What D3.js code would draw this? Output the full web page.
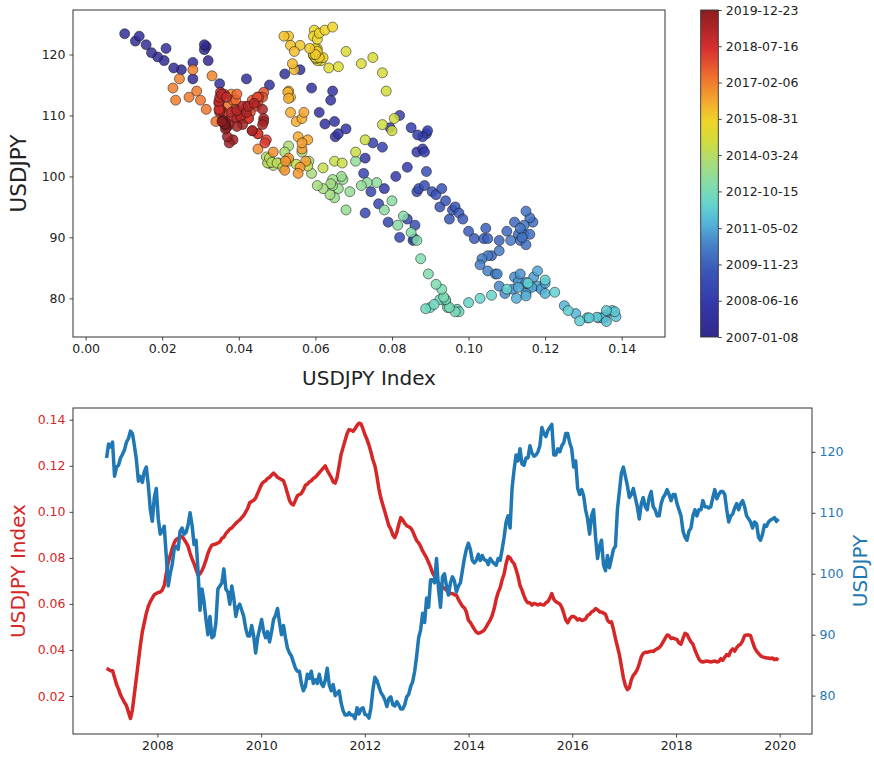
<!DOCTYPE html>
<html><head><meta charset="utf-8">
<script src="https://cdn.jsdelivr.net/npm/d3@7"></script>
<style>
body{margin:0;background:#fff}
svg{display:block}
text{font-family:"DejaVu Sans",sans-serif}
</style>
</head><body>
<svg id="c" width="874" height="759"></svg>
<script>
// ---------------- DATA ----------------
const startDate = "2007-01-08";   // first weekly observation
const stepDays = 14;              // one value every two weeks
const endDate = "2019-12-23";

// USDJPY spot (one row per year)
const usdjpy = [
 119.0,121.3,120.8,121.6,116.0,117.5,117.8,119.0,119.6,120.3,121.6,122.2,123.4,123.0,121.0,118.7,115.2,116.0,115.0,116.8,117.5,114.5,110.5,108.6,112.5,114.0,
 109.0,106.5,107.0,107.8,103.0,98.0,100.0,101.5,104.0,104.5,104.0,107.0,107.5,106.5,106.8,108.0,110.0,108.0,104.8,105.5,100.5,94.0,97.5,95.5,92.5,90.0,
 93.0,89.5,89.8,92.0,97.5,98.0,98.5,100.8,97.5,97.0,95.0,98.0,96.0,93.0,94.5,95.0,94.0,93.0,91.0,89.8,89.8,91.5,89.8,87.0,89.5,91.0,
 92.5,90.5,89.5,90.5,88.8,90.5,92.5,93.2,94.3,92.0,90.0,91.5,89.5,87.8,87.0,86.5,85.5,84.5,84.0,84.0,82.0,80.8,81.5,83.5,82.8,84.0,
 82.0,82.6,82.0,83.5,82.0,81.5,82.5,84.5,81.8,80.8,81.8,80.0,80.4,80.8,78.8,77.5,76.8,76.8,77.2,76.8,76.8,76.2,78.0,77.0,77.8,78.0,
 76.9,76.8,76.3,78.0,81.0,83.0,82.5,81.5,80.5,80.0,79.3,78.2,79.5,79.8,78.5,78.3,79.0,78.5,77.8,77.8,78.5,79.8,80.2,81.5,82.3,84.0,86.5,
 89.5,90.8,93.5,92.0,96.0,94.5,99.0,99.0,98.5,102.5,97.5,94.5,99.5,100.0,98.0,96.5,98.5,99.5,98.8,97.0,98.0,98.5,100.5,102.5,104.0,105.0,
 104.0,102.2,101.8,102.2,103.2,102.2,103.0,102.3,102.2,101.5,102.5,102.0,101.7,101.4,102.5,102.2,104.0,106.0,108.5,109.5,107.5,114.0,117.0,119.5,118.5,120.5,
 118.0,117.8,119.0,119.0,121.0,119.8,119.3,119.5,120.0,121.0,124.0,123.0,122.5,123.5,124.0,124.5,119.5,119.5,120.5,120.0,121.0,121.5,123.0,123.0,121.5,120.5,
 117.5,118.5,114.0,113.0,113.8,112.8,110.5,109.0,106.5,109.5,110.5,106.0,102.5,104.5,105.5,101.5,100.5,103.0,101.0,102.5,104.0,104.5,110.5,113.5,116.5,117.5,
 116.0,114.5,112.5,113.0,114.0,112.5,111.0,109.0,111.5,112.5,111.0,110.5,112.5,113.5,111.0,110.5,109.5,109.5,111.5,112.5,113.0,113.8,113.0,112.0,113.0,113.0,
 111.5,110.5,109.5,107.0,106.0,105.5,107.0,107.5,109.5,110.5,109.5,110.5,110.5,112.0,111.0,111.0,110.8,111.0,112.5,113.8,112.3,113.0,113.5,113.5,113.0,110.5,
 108.5,109.5,109.8,110.8,111.5,110.5,111.5,112.0,111.0,109.5,109.0,108.5,107.5,108.5,108.2,106.0,105.5,106.5,108.0,107.8,108.5,108.8,109.0,109.2,108.6,109.0
];

// USDJPY Index (one row per year)
const usdjpyIndex = [
 0.032,0.0315,0.031,0.031,0.028,0.025,0.023,0.0205,0.0188,0.0172,0.0158,0.013,0.0102,0.014,0.021,0.028,0.035,0.042,0.048,0.052,0.056,0.059,0.061,0.0625,0.064,0.0645,
 0.065,0.0652,0.066,0.068,0.073,0.078,0.081,0.084,0.0865,0.088,0.0885,0.089,0.0893,0.088,0.0867,0.085,0.082,0.0795,0.0775,0.075,0.0726,0.073,0.0745,0.0765,0.079,0.082,
 0.084,0.0855,0.0858,0.086,0.0865,0.087,0.0885,0.089,0.0905,0.0915,0.0925,0.093,0.094,0.095,0.0958,0.0965,0.0975,0.0985,0.100,0.1015,0.104,0.1045,0.105,0.106,0.108,0.110,
 0.112,0.113,0.1135,0.1145,0.115,0.116,0.1168,0.116,0.115,0.1145,0.114,0.1135,0.111,0.108,0.105,0.1035,0.103,0.105,0.107,0.1075,0.108,0.1095,0.1115,0.112,0.113,0.1135,
 0.1145,0.115,0.116,0.117,0.118,0.119,0.120,0.118,0.1165,0.115,0.113,0.1125,0.115,0.120,0.125,0.128,0.131,0.134,0.1357,0.1355,0.135,0.136,0.1375,0.1385,0.1382,0.136,
 0.1335,0.1315,0.129,0.126,0.1225,0.120,0.1155,0.110,0.106,0.103,0.100,0.097,0.094,0.0925,0.090,0.0888,0.091,0.0945,0.0975,0.0965,0.095,0.094,0.0935,0.093,0.0915,0.0895,0.0875,
 0.0865,0.085,0.083,0.0815,0.080,0.078,0.076,0.0735,0.072,0.0705,0.069,0.068,0.0672,0.0668,0.066,0.065,0.0645,0.0645,0.064,0.0638,0.062,0.0605,0.059,0.0583,0.0565,0.053,
 0.052,0.0505,0.049,0.0478,0.0472,0.0475,0.048,0.0486,0.050,0.0515,0.053,0.055,0.058,0.062,0.065,0.067,0.0705,0.073,0.0775,0.0806,0.080,0.0785,0.0775,0.075,0.072,0.068,
 0.066,0.0635,0.0615,0.0605,0.0605,0.0595,0.0602,0.060,0.0595,0.060,0.0597,0.0595,0.0605,0.061,0.0625,0.0645,0.062,0.061,0.0605,0.060,0.0585,0.056,0.053,0.0518,0.0535,0.0545,
 0.0545,0.054,0.053,0.0535,0.0528,0.053,0.0535,0.055,0.0555,0.0565,0.057,0.058,0.0575,0.0565,0.0565,0.056,0.0555,0.053,0.052,0.0522,0.049,0.045,0.0415,0.038,0.033,0.028,
 0.0245,0.0228,0.0235,0.027,0.029,0.030,0.0315,0.034,0.037,0.0385,0.039,0.039,0.0392,0.0395,0.0393,0.040,0.0405,0.041,0.042,0.0435,0.045,0.0465,0.0462,0.045,0.0452,0.0448,
 0.0445,0.043,0.0425,0.045,0.0472,0.0468,0.045,0.0435,0.0425,0.040,0.038,0.036,0.035,0.0348,0.035,0.0352,0.035,0.0348,0.035,0.0352,0.0348,0.035,0.0362,0.0355,0.0368,0.038,
 0.0375,0.0395,0.0405,0.0395,0.041,0.042,0.0425,0.044,0.0462,0.0465,0.0465,0.0462,0.0435,0.041,0.0395,0.0385,0.0375,0.037,0.0368,0.0365,0.0365,0.0362,0.0365,0.0358,0.0362,0.0356
];

const scatterXTicks = [0.00,0.02,0.04,0.06,0.08,0.10,0.12,0.14];
const priceTicks = [80,90,100,110,120];
const indexTicks = [0.02,0.04,0.06,0.08,0.10,0.12,0.14];
const yearTicks = [2008,2010,2012,2014,2016,2018,2020];
const colorbarLabels = ["2007-01-08","2008-06-16","2009-11-23","2011-05-02","2012-10-15",
                        "2014-03-24","2015-08-31","2017-02-06","2018-07-16","2019-12-23"];

// ---------------- SETUP ----------------
const parse = d3.utcParse("%Y-%m-%d");
const t0 = parse(startDate), t1 = parse(endDate);
const data = usdjpy.map((p, i) => ({
  date: d3.utcDay.offset(t0, i * stepDays), price: p, idx: usdjpyIndex[i]
}));

const RED = "#d62728", BLUE = "#1f77b4", AX = "#333";
const FS_TICK = "12.5px", FS_LAB = "20px";

// muted jet-like colormap as it appears in the reference
const cmap = d3.scaleLinear()
  .domain([0, 0.1, 0.2, 0.28, 0.34, 0.4, 0.46, 0.53, 0.6, 0.66, 0.72, 0.8, 0.88, 1])
  .range(["#32288c","#3438a8","#3a56b8","#4680c6","#52aed8","#62d2d0","#80dcae",
          "#a8dc7c","#d2dc3c","#f0d428","#f4a830","#ee6c2c","#d83030","#8c1c20"])
  .interpolate(d3.interpolateRgb).clamp(true);
const tNorm = d3.scaleTime().domain([t0, t1]).range([0, 1]);

const svg = d3.select("#c");

function styleAxis(g, color) {
  g.select(".domain").remove();
  g.selectAll(".tick line").attr("stroke", AX).attr("stroke-width", 0.9);
  g.selectAll(".tick text").attr("fill", color || "#222")
    .style("font-size", FS_TICK).style("font-family", "DejaVu Sans");
}

// ---------------- TOP: SCATTER ----------------
const T = {l: 73, r: 665, t: 10, b: 337};
const sx = d3.scaleLinear().domain([-0.0033, 0.1513]).range([T.l, T.r]);
const sy = d3.scaleLinear().domain([73.66, 127.3]).range([T.b, T.t]);

svg.append("g").selectAll("circle").data(data).join("circle")
  .attr("cx", d => sx(d.idx)).attr("cy", d => sy(d.price)).attr("r", 5)
  .attr("fill", d => cmap(tNorm(d.date))).attr("fill-opacity", 0.85)
  .attr("stroke", "#111").attr("stroke-opacity", 0.65).attr("stroke-width", 0.8);

svg.append("rect").attr("x", T.l).attr("y", T.t).attr("width", T.r - T.l).attr("height", T.b - T.t)
  .attr("fill", "none").attr("stroke", AX).attr("stroke-width", 1);

svg.append("g").attr("transform", `translate(0,${T.b})`)
  .call(d3.axisBottom(sx).tickValues(scatterXTicks).tickFormat(d3.format(".2f")).tickSize(3.5).tickPadding(4))
  .call(g => styleAxis(g));
svg.append("g").attr("transform", `translate(${T.l},0)`)
  .call(d3.axisLeft(sy).tickValues(priceTicks).tickFormat(d3.format("d")).tickSize(3.5).tickPadding(4))
  .call(g => styleAxis(g));

svg.append("text").attr("x", (T.l + T.r) / 2).attr("y", 385).attr("text-anchor", "middle")
  .style("font-size", FS_LAB).attr("fill", "#222").text("USDJPY Index");
svg.append("text").attr("transform", `translate(18,${(T.t + T.b) / 2}) rotate(-90)`)
  .attr("text-anchor", "middle").attr("dominant-baseline", "central")
  .style("font-size", "21.5px").attr("fill", "#222").text("USDJPY");

// colorbar
const CB = {x: 700.7, w: 17.6, t: 10, b: 337};
const grad = svg.append("defs").append("linearGradient").attr("id", "cmapg")
  .attr("x1", 0).attr("y1", 1).attr("x2", 0).attr("y2", 0);
d3.range(0, 1.0001, 0.01).forEach(s => grad.append("stop").attr("offset", s).attr("stop-color", cmap(s)));
svg.append("rect").attr("x", CB.x).attr("y", CB.t).attr("width", CB.w).attr("height", CB.b - CB.t)
  .attr("fill", "url(#cmapg)");
svg.append("rect").attr("x", CB.x).attr("y", CB.t).attr("width", CB.w).attr("height", CB.b - CB.t)
  .attr("fill", "none").attr("stroke", AX).attr("stroke-width", 0.9);
const cbScale = d3.scaleTime().domain([t0, t1]).range([CB.b, CB.t]);
svg.append("g").attr("transform", `translate(${CB.x + CB.w},0)`)
  .call(d3.axisRight(cbScale).tickValues(colorbarLabels.map(parse)).tickFormat(d3.utcFormat("%Y-%m-%d")).tickSize(3.5).tickPadding(4))
  .call(g => styleAxis(g));

// ---------------- BOTTOM: DUAL-AXIS LINES ----------------
const B = {l: 73, r: 812, t: 408, b: 734};
const span = t1 - t0;
const xt = d3.scaleTime().domain([new Date(+t0 - 0.05 * span), new Date(+t1 + 0.05 * span)]).range([B.l, B.r]);
const yL = d3.scaleLinear().domain([0.0035, 0.1451]).range([B.b, B.t]);
const yR = d3.scaleLinear().domain([73.7, 127.2]).range([B.b, B.t]);

svg.append("path").datum(data)
  .attr("d", d3.line().x(d => xt(d.date)).y(d => yL(d.idx)))
  .attr("fill", "none").attr("stroke", RED).attr("stroke-width", 3.5).attr("stroke-linejoin", "round");
svg.append("path").datum(data)
  .attr("d", d3.line().x(d => xt(d.date)).y(d => yR(d.price)))
  .attr("fill", "none").attr("stroke", BLUE).attr("stroke-width", 3.5).attr("stroke-linejoin", "round");

svg.append("rect").attr("x", B.l).attr("y", B.t).attr("width", B.r - B.l).attr("height", B.b - B.t)
  .attr("fill", "none").attr("stroke", AX).attr("stroke-width", 1);

svg.append("g").attr("transform", `translate(0,${B.b})`)
  .call(d3.axisBottom(xt).tickValues(yearTicks.map(y => new Date(Date.UTC(y, 0, 1))))
    .tickFormat(d3.utcFormat("%Y")).tickSize(3.5).tickPadding(4))
  .call(g => styleAxis(g));
svg.append("g").attr("transform", `translate(${B.l},0)`)
  .call(d3.axisLeft(yL).tickValues(indexTicks).tickFormat(d3.format(".2f")).tickSize(3.5).tickPadding(4))
  .call(g => styleAxis(g, RED));
svg.append("g").attr("transform", `translate(${B.r},0)`)
  .call(d3.axisRight(yR).tickValues(priceTicks).tickFormat(d3.format("d")).tickSize(3.5).tickPadding(4))
  .call(g => styleAxis(g, BLUE));

svg.append("text").attr("transform", `translate(18,${(B.t + B.b) / 2}) rotate(-90)`)
  .attr("text-anchor", "middle").attr("dominant-baseline", "central")
  .style("font-size", FS_LAB).attr("fill", RED).text("USDJPY Index");
svg.append("text").attr("transform", `translate(860,${(B.t + B.b) / 2}) rotate(-90)`)
  .attr("text-anchor", "middle").attr("dominant-baseline", "central")
  .style("font-size", FS_LAB).attr("fill", BLUE).text("USDJPY");
</script>
</body></html>
